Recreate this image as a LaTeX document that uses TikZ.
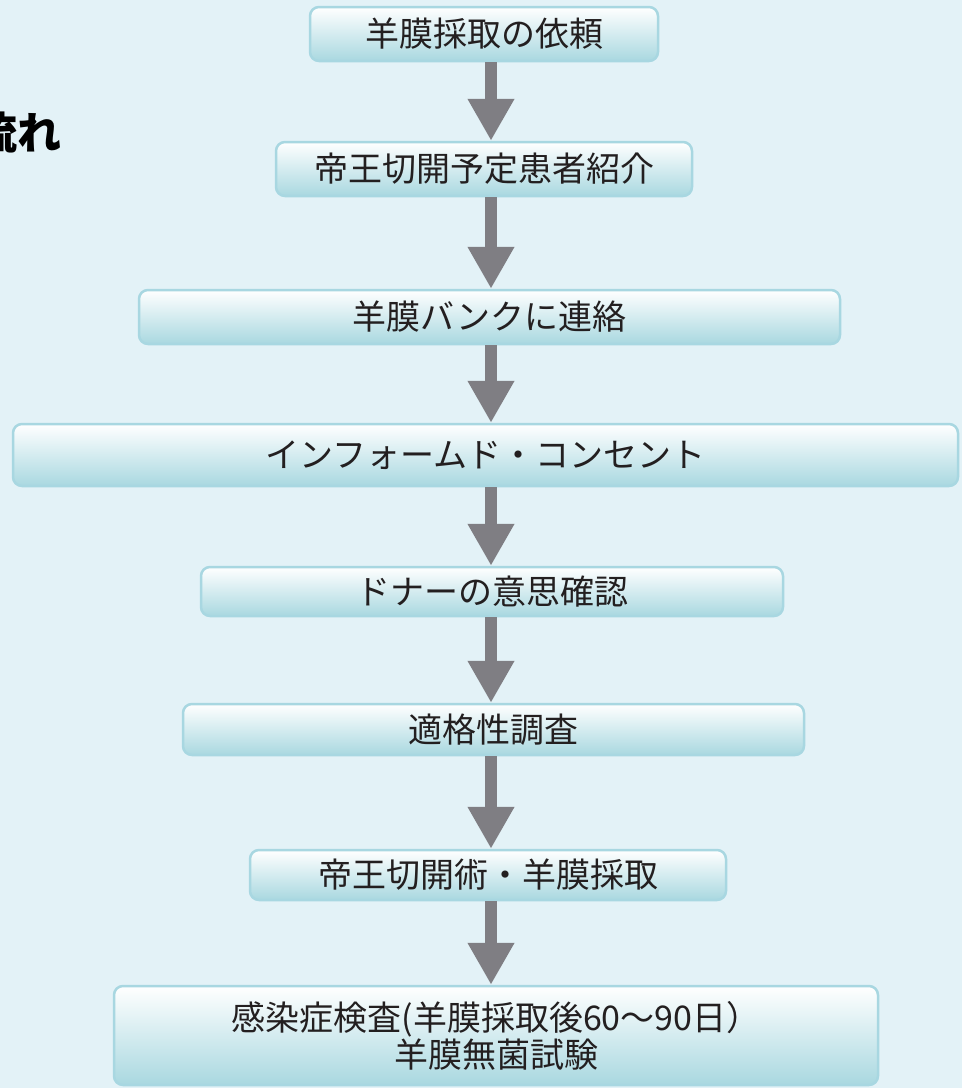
\documentclass[tikz,border=0pt]{standalone}
\usepackage{fontspec}
\newfontfamily\jp{Noto Sans CJK JP}
\usetikzlibrary{arrows.meta}
\definecolor{bgblue}{HTML}{E3F2F7}
\definecolor{boxline}{HTML}{A8D7E1}
\definecolor{boxfill}{HTML}{A9D8E0}
\definecolor{arrgray}{HTML}{7F7E83}
\definecolor{txt}{HTML}{231F20}
\begin{document}
\begin{tikzpicture}[x=1pt,y=-1pt,
  flowbox/.style={draw=boxline, line width=2.5pt, rounded corners=9pt,
    top color=white, bottom color=boxfill, inner sep=0pt, text=txt,
    font=\jp\fontsize{34}{37}\selectfont, align=center},
  flowarrow/.style={draw=arrgray, line width=12pt,
    -{Triangle[width=44pt,length=42pt]}}]
\useasboundingbox (0,0) rectangle (962,1088);
\clip (0,0) rectangle (962,1088);
\fill[bgblue] (0,0) rectangle (962,1088);
% title (cut at the left edge)
\node[anchor=west, inner sep=0pt, text=black, font=\jp\bfseries\fontsize{44}{44}\selectfont] (title) at (-27,133) {流れ};
% boxes
\node[flowbox, minimum width=348pt, minimum height=54pt] (b1) at (484,34) {羊膜採取の依頼};
\node[flowbox, minimum width=416pt, minimum height=54pt] (b2) at (484,169) {帝王切開予定患者紹介};
\node[flowbox, minimum width=701pt, minimum height=54pt] (b3) at (489.5,317) {羊膜バンクに連絡};
\node[flowbox, minimum width=945pt, minimum height=62pt] (b4) at (485.5,455) {インフォームド・コンセント};
\node[flowbox, minimum width=582pt, minimum height=49pt] (b5) at (492,591.5) {ドナーの意思確認};
\node[flowbox, minimum width=621pt, minimum height=51pt] (b6) at (493.5,729.5) {適格性調査};
\node[flowbox, minimum width=476pt, minimum height=50pt] (b7) at (488,875) {帝王切開術・羊膜採取};
\node[flowbox, minimum width=764pt, minimum height=99pt] (b8) at (496,1035.5) {感染症検査(羊膜採取後60～90日）\\羊膜無菌試験};
% arrows
\coordinate (ax) at (491,0);
\draw[flowarrow] (b1.south -| ax) -- (b2.north -| ax);
\draw[flowarrow] (b2.south -| ax) -- (b3.north -| ax);
\draw[flowarrow] (b3.south -| ax) -- (b4.north -| ax);
\draw[flowarrow] (b4.south -| ax) -- (b5.north -| ax);
\draw[flowarrow] (b5.south -| ax) -- (b6.north -| ax);
\draw[flowarrow] (b6.south -| ax) -- (b7.north -| ax);
\draw[flowarrow] (b7.south -| ax) -- (b8.north -| ax);
\end{tikzpicture}
\end{document}
